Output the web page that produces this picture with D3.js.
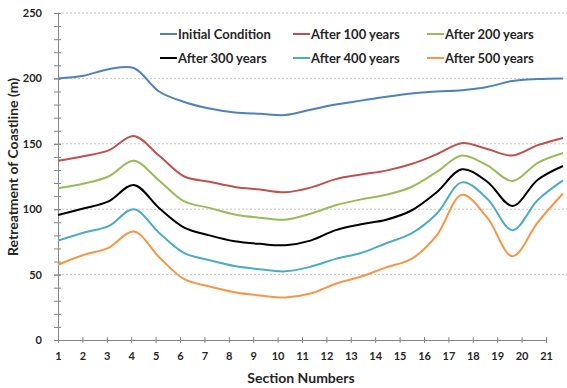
<!DOCTYPE html>
<html>
<head>
<meta charset="utf-8">
<script src="https://cdn.jsdelivr.net/npm/d3@7"></script>
<style>
  body { margin: 0; background: #fff; }
  text { font-family: Lato, 'Liberation Sans', sans-serif; font-weight: bold; fill: #262626; }
</style>
</head>
<body>
<svg id="chart"></svg>
<script>
const w = 567, h = 388;
const margin = { left: 58, top: 13, bottom: 340, axisRight: 546, lineRight: 563, gridRight: 567 };

// section numbers along the coast
const sections = d3.range(1, 22);
const seriesNames = ['Initial Condition', 'After 100 years', 'After 200 years', 'After 300 years', 'After 400 years', 'After 500 years'];
const seriesColors = ['#4F81BD', '#C0504D', '#9BBB59', '#000000', '#4BACC6', '#F79646'];

// values, one per section
const initialCondition = [200, 202, 207, 208, 190, 182, 177, 174, 173, 172, 176, 180, 183, 186, 188.5, 190, 191, 193.5, 198, 199.5, 200];
const after100 = [137, 140.5, 145, 156, 141, 125, 121, 117, 115, 113, 116.5, 123, 126.5, 129.5, 134.5, 142, 150.5, 146, 141, 149, 154.5];
const after200 = [116, 119.5, 125, 137, 122, 106, 101, 96, 93.5, 92, 96.5, 103, 107.5, 111, 117, 128.5, 141, 133.5, 121.5, 135.5, 143];
const after300 = [95.5, 100.5, 106, 118.5, 101, 86, 80, 75.5, 73.5, 72.5, 76, 84, 88.5, 92, 99, 113, 130.5, 121, 102.5, 122.5, 133];
const after400 = [76, 82, 87, 100, 82, 66.5, 61, 56.5, 54, 52.5, 56, 62, 66.5, 74, 81.5, 96.5, 120.5, 108, 84, 107, 122];
const after500 = [57.5, 65, 70.5, 83, 63.5, 46.5, 41, 36.5, 34, 32.5, 35.5, 43, 48.5, 55.5, 62, 80, 111, 93.5, 64, 90, 112];

const yTicks = [0, 50, 100, 150, 200, 250];

const allSeries = [initialCondition, after100, after200, after300, after400, after500];

const chart = d3.select('#chart')
    .attr('width', w)
    .attr('height', h);

const yScale = d3.scaleLinear()
    .domain([0, 250])
    .range([margin.bottom, margin.top]);

// the axis labels sit on a slightly shorter run than the plotted curves in the original
const xAxisScale = d3.scaleLinear()
    .domain([1, 21])
    .range([margin.left, margin.axisRight]);

const xScale = d3.scaleLinear()
    .domain([1, 21])
    .range([margin.left, margin.lineRight]);

// dotted gridlines
chart.append('g')
    .selectAll('line')
    .data(yTicks.filter(d => d > 0))
    .enter()
    .append('line')
    .attr('x1', margin.left)
    .attr('x2', margin.gridRight)
    .attr('y1', d => yScale(d))
    .attr('y2', d => yScale(d))
    .attr('stroke', '#c8c8c8')
    .attr('stroke-width', 1)
    .attr('stroke-dasharray', '2,2');

// minor ticks on y every 10
const yMinor = chart.append('g')
    .attr('transform', `translate(${margin.left}, 0)`)
    .call(d3.axisLeft(yScale).tickValues(d3.range(0, 251, 10)).tickFormat('').tickSizeOuter(0));
yMinor.select('.domain').remove();
yMinor.selectAll('.tick line').attr('x1', 3).attr('x2', -4).attr('stroke', '#868686');

// y axis with labels
const yAxis = chart.append('g')
    .attr('transform', `translate(${margin.left}, 0)`)
    .call(d3.axisLeft(yScale).tickValues(yTicks).tickSizeOuter(0).tickPadding(10));
yAxis.select('.domain').attr('stroke', '#868686');
yAxis.selectAll('.tick line').attr('x1', 3).attr('x2', -4).attr('stroke', '#868686');
yAxis.selectAll('text')
    .attr('font-size', '11px')
    .style('font-family', 'Lato, sans-serif')
    .style('font-weight', 'bold')
    .attr('fill', '#262626');

// x axis
const xAxis = chart.append('g')
    .attr('transform', `translate(0, ${margin.bottom})`)
    .call(d3.axisBottom(xAxisScale).tickValues(sections).tickFormat(d3.format('d')).tickSizeOuter(0).tickPadding(6));
xAxis.select('.domain').attr('stroke', '#868686');
xAxis.selectAll('.tick line').attr('y1', -3).attr('y2', 3).attr('stroke', '#868686');
xAxis.selectAll('text')
    .attr('font-size', '11px')
    .style('font-family', 'Lato, sans-serif')
    .style('font-weight', 'bold')
    .attr('fill', '#262626');

// series lines
const line = d3.line()
    .x((d, i) => xScale(sections[i]))
    .y(d => yScale(d))
    .curve(d3.curveCatmullRom);

chart.append('g')
    .selectAll('path')
    .data(allSeries)
    .enter()
    .append('path')
    .attr('d', line)
    .attr('fill', 'none')
    .attr('stroke', (d, i) => seriesColors[i])
    .attr('stroke-width', 2);

// axis titles
chart.append('text')
    .attr('x', 301)
    .attr('y', 383)
    .attr('text-anchor', 'middle')
    .attr('font-size', '14px')
    .text('Section Numbers');

chart.append('text')
    .attr('transform', 'translate(18, 167) rotate(-90)')
    .attr('text-anchor', 'middle')
    .attr('font-size', '14px')
    .text('Retreatment of Coastline (m)');

// legend, two rows of three
const legend = chart.append('g');
const legendCols = [160, 293, 427], legendRows = [39, 63];

const items = legend.selectAll('g')
    .data(seriesNames)
    .enter()
    .append('g')
    .attr('transform', (d, i) => `translate(${legendCols[i % 3]}, ${legendRows[Math.floor(i / 3)]})`);

items.append('line')
    .attr('x1', 0)
    .attr('x2', 17)
    .attr('y1', -5)
    .attr('y2', -5)
    .attr('stroke', (d, i) => seriesColors[i])
    .attr('stroke-width', 2);

items.append('text')
    .attr('x', 18)
    .attr('y', 0)
    .attr('font-size', '13px')
    .text(d => d);
</script>
</body>
</html>
